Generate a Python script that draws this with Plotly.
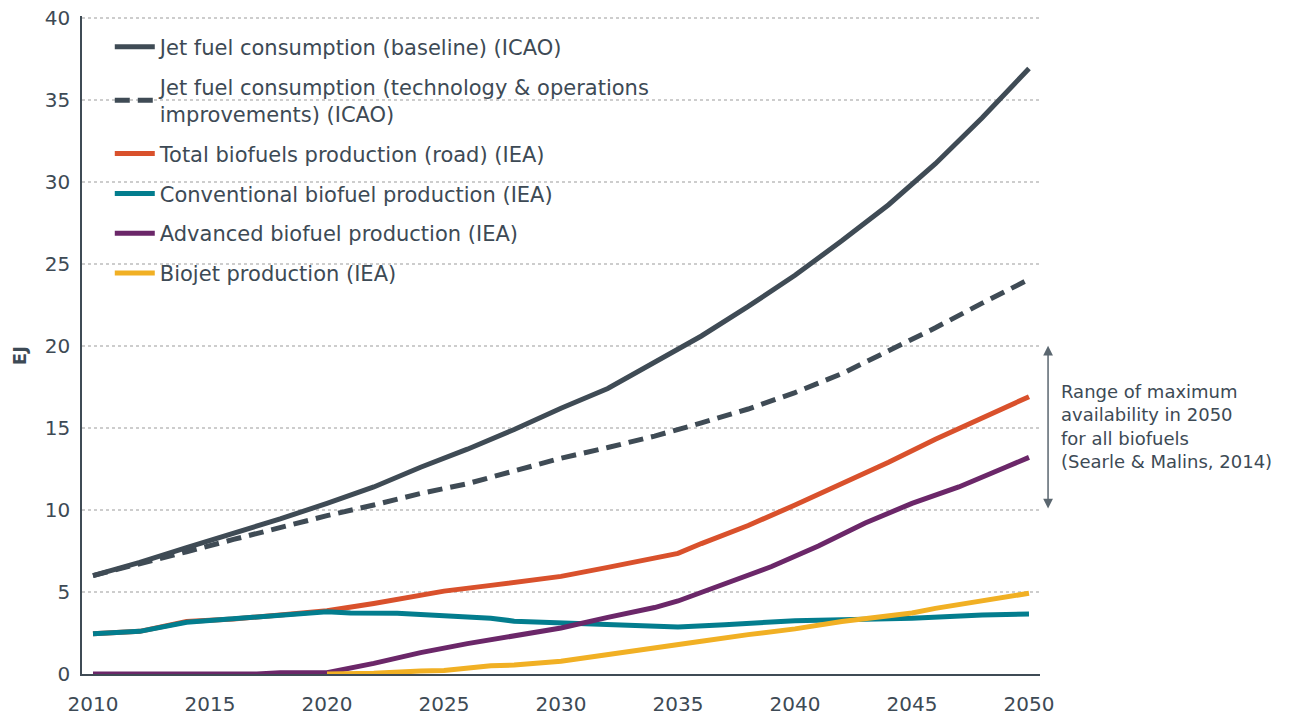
import plotly.graph_objects as go

# ---- data (EJ) ----
base_years = [2010, 2012, 2014, 2016, 2018, 2020, 2022, 2024, 2026, 2028, 2030,
              2032, 2034, 2036, 2038, 2040, 2042, 2044, 2046, 2048, 2050]
jet_baseline = [6.0, 6.8, 7.7, 8.55, 9.45, 10.4, 11.4, 12.6, 13.7, 14.9, 16.2,
                17.4, 19.0, 20.6, 22.4, 24.3, 26.4, 28.6, 31.1, 33.9, 36.9]

tech_years = [2010, 2012, 2014, 2016, 2018, 2020, 2022, 2024, 2026, 2028, 2030,
              2032, 2034, 2036, 2038, 2040, 2042, 2044, 2046, 2048, 2050]
jet_tech_ops = [6.0, 6.7, 7.45, 8.2, 8.95, 9.65, 10.3, 11.0, 11.6, 12.35, 13.15,
                13.8, 14.5, 15.3, 16.15, 17.15, 18.3, 19.7, 21.1, 22.6, 24.05]

total_years = [2010, 2012, 2014, 2016, 2018, 2020, 2022, 2024, 2025, 2027, 2030,
               2032, 2035, 2036, 2038, 2040, 2042, 2044, 2046, 2048, 2050]
total_biofuels = [2.45, 2.6, 3.2, 3.35, 3.6, 3.85, 4.3, 4.8, 5.05, 5.4, 5.95,
                  6.5, 7.35, 7.95, 9.05, 10.3, 11.6, 12.9, 14.3, 15.6, 16.9]

conv_years = [2010, 2012, 2014, 2015, 2017, 2018, 2020, 2021, 2023, 2025, 2027,
              2028, 2030, 2032, 2033, 2035, 2037, 2040, 2042, 2045, 2048, 2049, 2050]
conventional = [2.45, 2.6, 3.15, 3.25, 3.45, 3.6, 3.8, 3.72, 3.7, 3.55, 3.4,
                3.22, 3.1, 3.0, 2.95, 2.87, 3.0, 3.25, 3.3, 3.4, 3.6, 3.65, 3.65]

adv_years = [2010, 2015, 2017, 2018, 2020, 2022, 2024, 2026, 2028, 2030, 2032,
             2034, 2035, 2037, 2039, 2041, 2043, 2045, 2047, 2049, 2050]
advanced = [0, 0, 0, 0.08, 0.08, 0.65, 1.3, 1.85, 2.35, 2.8, 3.45,
            4.05, 4.45, 5.5, 6.55, 7.8, 9.2, 10.4, 11.4, 12.6, 13.2]

bj_years = [2020, 2022, 2024, 2025, 2027, 2028, 2030, 2032, 2035, 2036, 2038,
            2040, 2042, 2044, 2045, 2046, 2048, 2050]
biojet = [0, 0.05, 0.18, 0.22, 0.5, 0.55, 0.78, 1.2, 1.85, 2.0, 2.4,
          2.75, 3.2, 3.55, 3.72, 4.0, 4.45, 4.92]

x_ticks = [2010, 2015, 2020, 2025, 2030, 2035, 2040, 2045, 2050]
y_ticks = [0, 5, 10, 15, 20, 25, 30, 35, 40]

range_low, range_high = 10, 20  # Searle & Malins range (EJ)

names = [
    "Jet fuel consumption (baseline) (ICAO)",
    "Jet fuel consumption (technology & operations<br>improvements) (ICAO)",
    "Total biofuels production (road) (IEA)",
    "Conventional biofuel production (IEA)",
    "Advanced biofuel production (IEA)",
    "Biojet production (IEA)",
]

DARK = "#3f4b55"
TEXT = "#3d4a55"
COLORS = [DARK, DARK, "#d9512c", "#037d8e", "#6b2769", "#f1b024"]
FONT = "DejaVu Sans"

fig = go.Figure()
series = [
    (base_years, jet_baseline, "solid"),
    (tech_years, jet_tech_ops, "15px,8px"),
    (total_years, total_biofuels, "solid"),
    (conv_years, conventional, "solid"),
    (adv_years, advanced, "solid"),
    (bj_years, biojet, "solid"),
]
for i, (xs, ys, dash) in enumerate(series):
    fig.add_trace(go.Scatter(
        x=xs, y=ys, mode="lines", name=names[i],
        line=dict(color=COLORS[i], width=5, dash=dash),
        legendgroup=f"g{i}", legendrank=i + 1,
        hoverinfo="skip",
    ))

# range arrow
fig.add_annotation(
    xref="paper", yref="y", x=1.0084, y=range_high,
    axref="pixel", ayref="y", ax=0, ay=range_low,
    text="", showarrow=True, arrowhead=2, arrowside="end+start",
    arrowsize=1.3, arrowwidth=1.5, arrowcolor="#5b6770", standoff=0, startstandoff=0,
)
fig.add_annotation(
    xref="paper", yref="y", x=1.0194, y=15.07,
    text="Range of maximum<br>availability in 2050<br>for all biofuels<br>(Searle & Malins, 2014)",
    showarrow=False, xanchor="left", yanchor="middle", align="left",
    font=dict(family=FONT, size=18, color=TEXT),
)
# y-axis title
fig.add_annotation(
    xref="paper", yref="y", x=-0.0658, y=19.43, text="<b>EJ</b>", textangle=-90,
    showarrow=False, xanchor="center", yanchor="middle",
    font=dict(family=FONT, size=18, color=TEXT),
)

fig.update_layout(
    width=1291, height=719,
    margin=dict(l=82, r=251, t=15.5, b=45, autoexpand=False),
    paper_bgcolor="white", plot_bgcolor="white",
    font=dict(family=FONT, size=18, color=TEXT),
    showlegend=True,
    legend=dict(
        x=0.029, y=0.984, xanchor="left", yanchor="top",
        bgcolor="rgba(0,0,0,0)", font=dict(family=FONT, size=21, color=TEXT),
        tracegroupgap=9.5, itemwidth=40,
    ),
    xaxis=dict(
        range=[2009.53, 2050.47], tickvals=x_ticks, ticktext=[str(v) for v in x_ticks],
        showgrid=False, zeroline=False, showline=True, linecolor=DARK, linewidth=1.5,
        ticks="", tickfont=dict(size=20, color=TEXT), ticklabelstandoff=11,
        automargin=False, ticklabeloverflow="allow",
    ),
    yaxis=dict(
        range=[0, 40.1], tickvals=y_ticks, showgrid=True, gridcolor="#cdcdcd",
        griddash="dot", gridwidth=1.5, zeroline=False, showline=True,
        linecolor=DARK, linewidth=1.5, ticks="", ticklabelstandoff=6,
        tickfont=dict(size=20, color=TEXT), automargin=False,
        ticklabeloverflow="allow",
    ),
)

# remove the default 8px page margin so the 1291x719 figure fills the window exactly
fig.write_html(
    "out.html",
    config={"displayModeBar": False},
    post_script="document.body.style.margin='0px';document.body.style.overflow='hidden';",
)
